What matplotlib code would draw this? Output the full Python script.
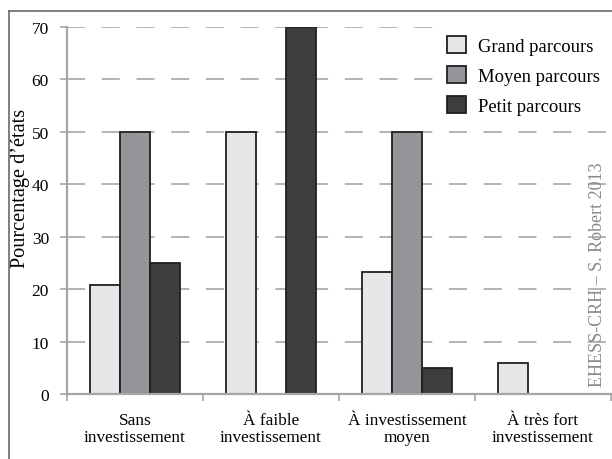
import matplotlib.pyplot as plt
import numpy as np
from matplotlib.lines import Line2D

plt.rcParams["font.family"] = ["Liberation Serif", "DejaVu Serif"]
plt.rcParams["lines.scale_dashes"] = False

# ------------------------------------------------------------
# Data
# ------------------------------------------------------------

categories = [
    "Sans\ninvestissement",
    "À faible\ninvestissement",
    "À investissement\nmoyen",
    "À très fort\ninvestissement",
]
series_names = ["Grand parcours", "Moyen parcours", "Petit parcours"]
grand = [20.7, 50, 23.2, 6]
moyen = [50, 0, 50, 0]
petit = [25, 70, 5, 0]

colors = ["#e6e7e8", "#939598", "#3d3d3d"]
edge = "#231f20"
axis_gray = "#a6a6a6"

# ------------------------------------------------------------
# Figure
# ------------------------------------------------------------

fig = plt.figure(figsize=(6.12, 4.6), dpi=100)
ax = fig.add_axes([67 / 612, 1 - 395 / 460, 544 / 612, (395 - 28) / 460])

x = np.arange(len(categories))
width = 0.22
for i, (values, name) in enumerate(zip([grand, moyen, petit], series_names)):
    lw = [1.3 if v > 0 else 0 for v in values]
    ax.bar(x + (i - 1) * width, values, width, color=colors[i],
           edgecolor=edge, linewidth=lw, label=name, zorder=2)

ax.set_xlim(-0.5, len(categories) - 0.5)
ax.set_ylim(0, 70)
ax.set_yticks(np.arange(0, 71, 10))
ax.yaxis.grid(True, color="#b3b3b3", linewidth=1.4,
              linestyle=(0, (13, 12)), zorder=1)
ax.set_axisbelow(True)

# category boundaries as major ticks, names on minor ticks
ax.set_xticks(np.arange(-0.5, len(categories), 1.0))
ax.set_xticklabels([])
ax.set_xticks(x, minor=True)
ax.set_xticklabels(categories, minor=True, fontsize=12.4, linespacing=1.12)
ax.tick_params(axis="x", which="minor", length=0, pad=13)
ax.tick_params(axis="x", which="major", length=5, width=1.2, color=axis_gray)
ax.tick_params(axis="y", length=5, width=1.2, color=axis_gray,
               labelsize=12.5, pad=8)

for side in ["top", "right"]:
    ax.spines[side].set_visible(False)
for side in ["left", "bottom"]:
    ax.spines[side].set_color(axis_gray)
    ax.spines[side].set_linewidth(1.6)
    ax.spines[side].set_zorder(3)

fig.text(21 / 612, 1 - 188 / 460, "Pourcentage d’états", rotation=90,
         ha="center", va="center", fontsize=14.6)

leg = ax.legend(loc="upper right", bbox_to_anchor=(0.997, 1.0),
                fontsize=13.4, frameon=True, fancybox=False,
                handlelength=1.0, handleheight=1.0, handletextpad=0.65,
                labelspacing=0.6, borderpad=0.5, borderaxespad=0)
leg.get_frame().set_facecolor("white")
leg.get_frame().set_edgecolor("none")
leg.get_frame().set_alpha(1)
leg.set_zorder(4)

fig.text(597 / 612, 1 - 275 / 460, "EHESS-CRH – S. Robert 2013",
         rotation=90, ha="center", va="center", fontsize=13,
         color="#8a8a8a")

# outer frame (left and top edges)
fig.add_artist(Line2D([9 / 612, 9 / 612], [0, 1 - 12 / 460],
                      color="#6a6a6a", linewidth=1.2))
fig.add_artist(Line2D([9 / 612, 1], [1 - 12 / 460, 1 - 12 / 460],
                      color="#6a6a6a", linewidth=1.2))

fig.savefig("out.png", dpi=100)
